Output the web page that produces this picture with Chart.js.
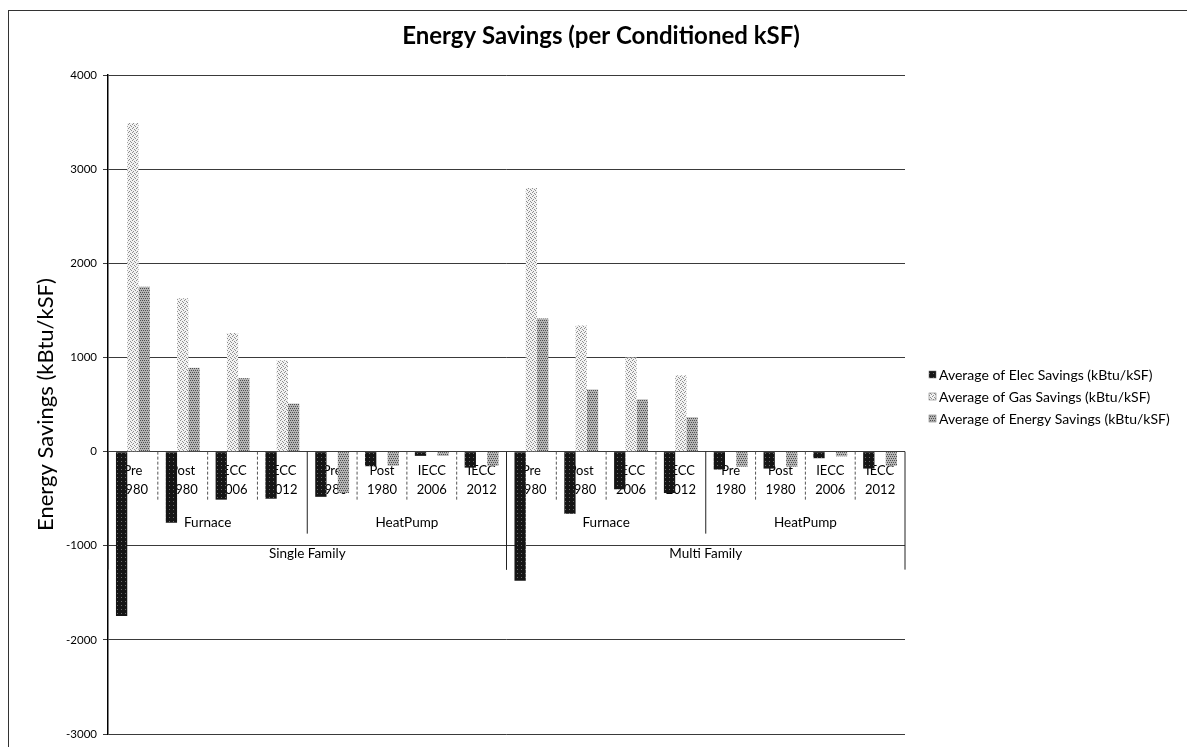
<!DOCTYPE html>
<html>
<head>
<meta charset="utf-8">
<script src="https://cdn.jsdelivr.net/npm/chart.js@4.4.0/dist/chart.umd.min.js"></script>
<style>
  body { margin: 0; background: #fff; }
  #wrap { position: relative; width: 1187px; height: 747px; overflow: hidden; }
  #frame { position: absolute; left: 8px; top: 10px; width: 1200px; height: 760px;
           border-left: 1.5px solid #333; border-top: 1.5px solid #333; pointer-events: none; }
  canvas { position: absolute; left: 0; top: 0; }
</style>
</head>
<body>
<div id="wrap">
  <canvas id="savingsChart" width="1187" height="747"></canvas>
  <div id="frame"></div>
</div>
<script>
// category levels (inner -> outer)
const vintages = ['Pre\n1980', 'Post\n1980', 'IECC\n2006', 'IECC\n2012'];
const systems = ['Furnace', 'HeatPump'];
const buildings = ['Single Family', 'Multi Family'];

// kBtu/kSF
const elecSavings = [-1745, -755, -510, -500, -480, -155, -45, -170,
                     -1372, -660, -400, -440, -190, -180, -70, -180];
const gasSavings = [3490, 1630, 1260, 970, 0, 0, 0, 0,
                    2800, 1340, 1000, 810, 0, 0, 0, 0];
const energySavings = [1750, 890, 780, 510, -440, -150, -45, -150,
                       1415, 660, 555, 365, -160, -160, -50, -150];

const seriesNames = ['Average of Elec Savings (kBtu/kSF)',
                     'Average of Gas Savings (kBtu/kSF)',
                     'Average of Energy Savings (kBtu/kSF)'];

const chartTitle = 'Energy Savings (per Conditioned kSF)';
const yTicks = { min: -3000, max: 4000, step: 1000 };

// flat list of categories built from the levels
const categories = [];
buildings.forEach(b => systems.forEach(s => vintages.forEach(v => categories.push(v))));

// scanned-looking fills
function makePattern(bg, fg, dots) {
    const c = document.createElement('canvas');
    c.width = 4; c.height = 4;
    const g = c.getContext('2d');
    g.fillStyle = bg; g.fillRect(0, 0, 4, 4);
    g.fillStyle = fg;
    dots.forEach(([px, py]) => g.fillRect(px, py, 1, 1));
    return g.createPattern(c, 'repeat');
}
const elecFill = makePattern('#151515', '#6a6a6a', [[1, 1]]);
const gasFill = makePattern('#f2f2f2', '#8e8e8e', [[0, 0], [2, 1], [1, 3], [3, 2]]);
const energyFill = makePattern('#b5b5b5', '#4e4e4e', [[0, 0], [2, 0], [1, 2], [3, 2]]);
const fills = [elecFill, gasFill, energyFill];

const FONT = 'Lato';

// multi-level category labels sitting under the zero line
const catLabels = {
    id: 'catLabels',
    beforeDatasetsDraw(chart) {
        const { ctx, scales: { x, y } } = chart;
        const y0 = y.getPixelForValue(0);
        const step = x.getPixelForValue(1) - x.getPixelForValue(0);
        const edge = i => x.getPixelForValue(i) - step / 2;
        ctx.save();
        ctx.fillStyle = '#000';
        ctx.textAlign = 'center';
        ctx.textBaseline = 'middle';
        ctx.font = '13px ' + FONT;
        categories.forEach((lab, i) => {
            const cx = x.getPixelForValue(i);
            lab.split('\n').forEach((ln, k) => ctx.fillText(ln, cx, y0 + 19 + k * 19));
        });
        // separators
        ctx.strokeStyle = '#555';
        ctx.lineWidth = 1;
        ctx.setLineDash([3, 2]);
        for (let i = 1; i < categories.length; i++) {
            if (i % 4 === 0) continue;
            ctx.beginPath(); ctx.moveTo(edge(i), y0); ctx.lineTo(edge(i), y0 + 50); ctx.stroke();
        }
        ctx.setLineDash([]);
        ctx.strokeStyle = '#222';
        ctx.font = '13.5px ' + FONT;
        const per = vintages.length;
        for (let g = 0; g < buildings.length * systems.length; g++) {
            const a = edge(g * per), b = edge((g + 1) * per);
            ctx.fillText(systems[g % systems.length], (a + b) / 2, y0 + 71);
            if (g % systems.length === 1) continue;
            const xe = edge((g + 1) * per);
            ctx.beginPath(); ctx.moveTo(xe, y0); ctx.lineTo(xe, y0 + 82); ctx.stroke();
        }
        const per2 = per * systems.length;
        buildings.forEach((b, k) => {
            const a = edge(k * per2), c = edge((k + 1) * per2);
            ctx.fillText(b, (a + c) / 2, y0 + 102);
            [a, c].forEach(xe => {
                ctx.beginPath(); ctx.moveTo(xe, y0); ctx.lineTo(xe, y0 + 118); ctx.stroke();
            });
        });
        ctx.restore();
    }
};

// title centred on the page, legend on the right
const sideText = {
    id: 'sideText',
    afterDraw(chart) {
        const { ctx } = chart;
        ctx.save();
        ctx.fillStyle = '#000';
        ctx.textAlign = 'center';
        ctx.textBaseline = 'middle';
        ctx.font = 'bold 24px ' + FONT;
        ctx.fillText(chartTitle, 601, 36);

        ctx.textAlign = 'left';
        ctx.font = '14px ' + FONT;
        chart.data.datasets.forEach((ds, i) => {
            const ty = 375 + i * 22;
            ctx.fillStyle = ds.backgroundColor;
            ctx.fillRect(929, ty - 4, 7, 7);
            ctx.strokeStyle = '#666';
            ctx.lineWidth = 0.5;
            ctx.strokeRect(929, ty - 4, 7, 7);
            ctx.fillStyle = '#000';
            ctx.fillText(ds.label, 939, ty);
        });
        ctx.restore();
    }
};

new Chart(document.getElementById('savingsChart'), {
    type: 'bar',
    data: {
        labels: categories,
        datasets: [elecSavings, gasSavings, energySavings].map((d, i) => ({
            label: seriesNames[i],
            data: d,
            backgroundColor: fills[i],
            borderWidth: 0,
            categoryPercentage: 0.68,
            barPercentage: 1.0
        }))
    },
    options: {
        responsive: false,
        animation: false,
        layout: { padding: { left: 0, right: 282, top: 75, bottom: 7 } },
        plugins: {
            legend: { display: false },
            tooltip: { enabled: false },
            title: { display: false }
        },
        scales: {
            x: { display: false },
            y: {
                min: yTicks.min,
                max: yTicks.max,
                ticks: {
                    stepSize: yTicks.step,
                    color: '#000',
                    font: { family: FONT, size: 11.5 },
                    padding: 6,
                    callback: v => String(v)
                },
                grid: { color: '#3a3a3a', lineWidth: 1, tickLength: 5 },
                border: { color: '#000', width: 1.5 },
                title: {
                    display: true,
                    text: 'Energy Savings (kBtu/kSF)',
                    color: '#000',
                    font: { family: FONT, size: 22 },
                    padding: { top: 33 }
                },
                afterFit(scale) { scale.width = 108; }
            }
        }
    },
    plugins: [catLabels, sideText]
});
</script>
</body>
</html>
